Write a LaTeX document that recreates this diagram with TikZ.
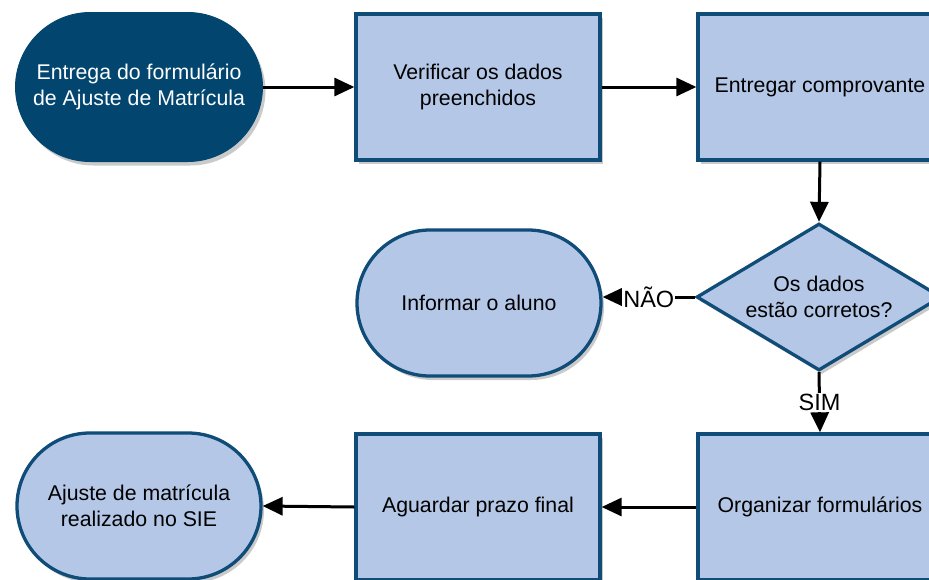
\documentclass[tikz,border=0pt]{standalone}
\usepackage{fontspec}
\setmainfont{Liberation Sans}
\usetikzlibrary{shapes.geometric,arrows.meta,shadows}
\definecolor{darkblue}{RGB}{2,70,112}
\definecolor{edgeblue}{RGB}{16,76,120}
\definecolor{lightblue}{RGB}{180,199,231}
\tikzset{
  shad/.style={drop shadow={shadow xshift=3pt,shadow yshift=-4pt,opacity=0.35,fill=black!60}},
  txt/.style={font=\fontsize{21.3}{26}\selectfont, align=center},
  procbox/.style={rectangle, shad, draw=edgeblue, line width=3.3pt, fill=lightblue, minimum width=244pt, minimum height=146pt, inner sep=0pt, txt},
  termlight/.style={rectangle, rounded corners=73pt, shad, draw=edgeblue, line width=3.3pt, fill=lightblue, minimum width=244pt, minimum height=146pt, inner sep=0pt, txt},
  termdark/.style={rectangle, rounded corners=75pt, shad, draw=darkblue, line width=1pt, fill=darkblue, text=white, minimum width=247pt, minimum height=149pt, inner sep=0pt, txt},
  decbox/.style={diamond, aspect=1.65, shad, draw=edgeblue, line width=3.3pt, fill=lightblue, minimum width=245pt, minimum height=147pt, inner sep=0pt, txt},
  conn/.style={line width=3pt, -{Triangle[length=20pt,width=18pt]}},
  lbl/.style={fill=white, inner sep=1pt, font=\fontsize{23.5}{26}\selectfont}
}
\begin{document}
\begin{tikzpicture}[x=1pt,y=-1pt]
\useasboundingbox (0,0) rectangle (929,579);
\clip (0,0) rectangle (929,579);
\node[termdark] (start) at (139,87) {Entrega do formulário\\de Ajuste de Matrícula};
\node[procbox] (verif) at (478,87) {Verificar os dados\\preenchidos};
\node[procbox] (entreg) at (820,87) {Entregar comprovante};
\node[decbox] (dec) at (819,297) {Os dados\\estão corretos?};
\node[termlight] (inform) at (479,303) {Informar o aluno};
\node[procbox] (org) at (820,507) {Organizar formulários};
\node[procbox] (aguard) at (478,507) {Aguardar prazo final};
\node[termlight] (ajuste) at (139,506) {Ajuste de matrícula\\realizado no SIE};
\draw[conn] (start.east) -- (verif.west);
\draw[conn] (verif.east) -- (entreg.west);
\draw[conn] (entreg.south) -- (dec.north);
\draw[conn] (dec.west) -- node[lbl] (nao) {NÃO} (inform.east |- dec.west);
\draw[conn] (dec.south) -- node[lbl] (sim) {SIM} (org.north);
\draw[conn] (org.west) -- (aguard.east);
\draw[conn] (aguard.west) -- (ajuste.east);
\end{tikzpicture}
\end{document}
